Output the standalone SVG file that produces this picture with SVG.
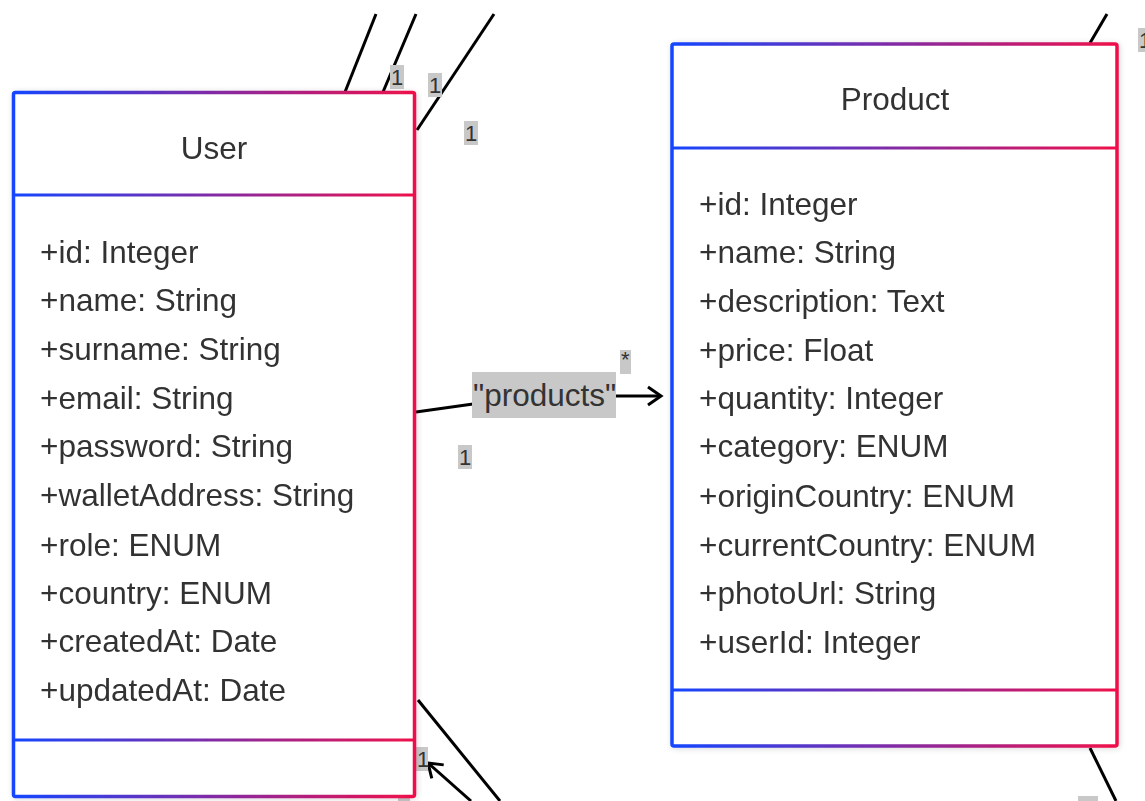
<svg xmlns="http://www.w3.org/2000/svg" width="1145" height="801" viewBox="0 0 1145 801">
<style>
.t{font-family:"Liberation Sans",Arial,sans-serif;font-size:31.5px;fill:#333}
.ttl{text-anchor:middle}
.lbl{font-family:"Liberation Sans",Arial,sans-serif;font-size:22px;fill:#333}
.lbg{fill:#c8c8c8}
.c{stroke:#000;stroke-width:3;fill:none}
</style>
<defs>
<linearGradient id="gU" gradientUnits="userSpaceOnUse" x1="12" y1="0" x2="416" y2="0"><stop offset="0" stop-color="#1446ff"/><stop offset="1" stop-color="#f0104a"/></linearGradient>
<linearGradient id="gP" gradientUnits="userSpaceOnUse" x1="671" y1="0" x2="1118" y2="0"><stop offset="0" stop-color="#1446ff"/><stop offset="1" stop-color="#f0104a"/></linearGradient>
<filter id="sh" x="-5%" y="-5%" width="110%" height="110%"><feGaussianBlur in="SourceAlpha" stdDeviation="3"/><feOffset dx="1" dy="1"/><feComponentTransfer><feFuncA type="linear" slope="0.15"/></feComponentTransfer><feMerge><feMergeNode/><feMergeNode in="SourceGraphic"/></feMerge></filter>
<marker id="arr" markerWidth="18" markerHeight="22" refX="15" refY="11" orient="auto" markerUnits="userSpaceOnUse"><path d="M2,2 L15,11 L2,20" fill="none" stroke="#000" stroke-width="3"/></marker>
</defs>
<g id="connectors">
<line class="c" x1="345" y1="92" x2="376" y2="14"/>
<line class="c" x1="383" y1="92" x2="416" y2="14"/>
<line class="c" x1="417" y1="130" x2="494" y2="14"/>
<line class="c" x1="1090" y1="43" x2="1107" y2="14"/>
<line class="c" x1="416" y1="412" x2="473" y2="404"/>
<line class="c" x1="616" y1="396" x2="661" y2="396" marker-end="url(#arr)"/>
<line class="c" x1="418" y1="700" x2="500" y2="801"/>
<line class="c" x1="471" y1="801" x2="428" y2="763" marker-end="url(#arr)"/>
<line class="c" x1="1090" y1="748" x2="1116" y2="801"/>
<rect class="lbg" x="390" y="65" width="14" height="24"/><text class="lbl" x="391" y="85">1</text>
<rect class="lbg" x="428" y="73" width="14" height="24"/><text class="lbl" x="429" y="93">1</text>
<rect class="lbg" x="464" y="121" width="14" height="24"/><text class="lbl" x="465" y="141">1</text>
<rect class="lbg" x="458" y="445" width="14" height="24"/><text class="lbl" x="459" y="465">1</text>
<rect class="lbg" x="620" y="350" width="11" height="24"/><text class="lbl" x="621" y="367">*</text>
<rect class="lbg" x="416" y="747" width="12" height="24"/><text class="lbl" x="417" y="767">1</text>
<rect class="lbg" x="1138" y="28" width="10" height="24"/><text class="lbl" x="1139" y="48">1</text>
<rect class="lbg" x="1078" y="796" width="20" height="8"/>
<rect class="lbg" x="398" y="797" width="12" height="6"/>
<rect class="lbg" x="472" y="372" width="144" height="46"/><text class="t" x="473" y="406">"products"</text>
</g>
<g id="User" filter="url(#sh)">
<rect x="13.5" y="92.5" width="401" height="704" rx="2" fill="#fff" stroke="url(#gU)" stroke-width="3.5"/>
<line x1="13.5" y1="195" x2="414.5" y2="195" stroke="url(#gU)" stroke-width="3"/>
<line x1="13.5" y1="740" x2="414.5" y2="740" stroke="url(#gU)" stroke-width="3"/>
<text class="t ttl" x="214" y="159">User</text>
<text class="t" x="40" y="263">+id: Integer</text>
<text class="t" x="40" y="311">+name: String</text>
<text class="t" x="40" y="360">+surname: String</text>
<text class="t" x="40" y="409">+email: String</text>
<text class="t" x="40" y="457">+password: String</text>
<text class="t" x="40" y="506">+walletAddress: String</text>
<text class="t" x="40" y="556">+role: ENUM</text>
<text class="t" x="40" y="604">+country: ENUM</text>
<text class="t" x="40" y="652">+createdAt: Date</text>
<text class="t" x="40" y="701">+updatedAt: Date</text>
</g>
<g id="Product" filter="url(#sh)">
<rect x="672" y="44" width="445" height="702" rx="2" fill="#fff" stroke="url(#gP)" stroke-width="3.5"/>
<line x1="672" y1="148" x2="1117" y2="148" stroke="url(#gP)" stroke-width="3"/>
<line x1="672" y1="690" x2="1117" y2="690" stroke="url(#gP)" stroke-width="3"/>
<text class="t ttl" x="895" y="110">Product</text>
<text class="t" x="699" y="215">+id: Integer</text>
<text class="t" x="699" y="263">+name: String</text>
<text class="t" x="699" y="312">+description: Text</text>
<text class="t" x="699" y="361">+price: Float</text>
<text class="t" x="699" y="409">+quantity: Integer</text>
<text class="t" x="699" y="457">+category: ENUM</text>
<text class="t" x="699" y="507">+originCountry: ENUM</text>
<text class="t" x="699" y="556">+currentCountry: ENUM</text>
<text class="t" x="699" y="604">+photoUrl: String</text>
<text class="t" x="699" y="653">+userId: Integer</text>
</g>
</svg>
